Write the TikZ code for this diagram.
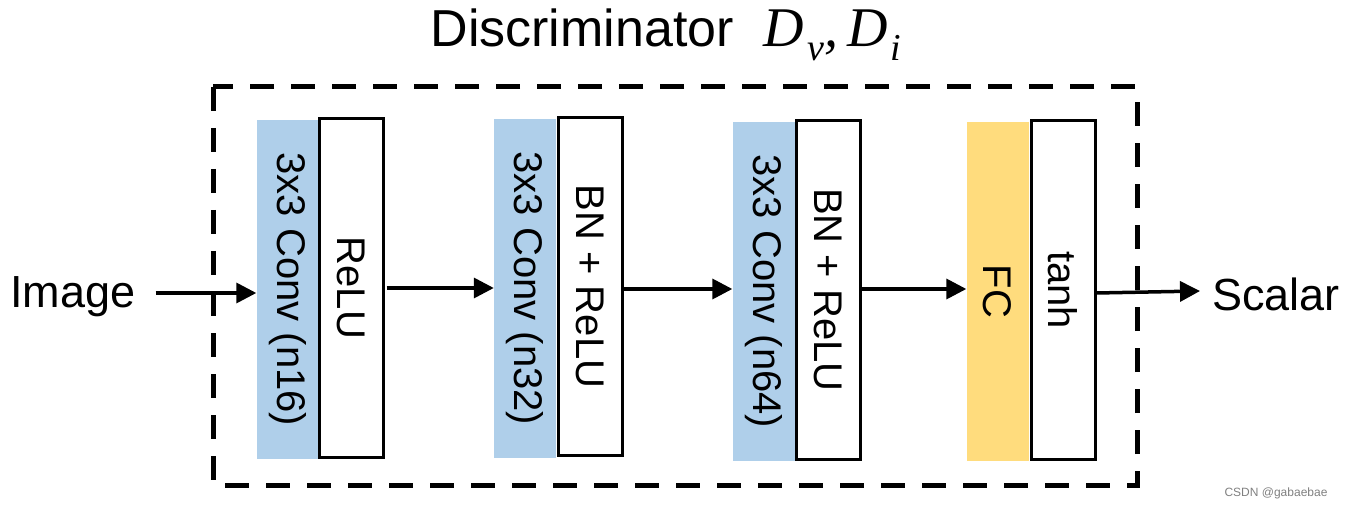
\documentclass[tikz,border=0pt]{standalone}
\usepackage{fontspec}
\usepackage{graphicx}
\setmainfont{Liberation Sans}
\newfontfamily\timesit{Liberation Serif}[UprightFont=*-Italic]
\usetikzlibrary{arrows.meta, positioning}
\definecolor{convblue}{RGB}{175,207,234}
\definecolor{fcyellow}{RGB}{255,220,125}

\begin{document}
\begin{tikzpicture}[
    x=1pt, y=-1pt,
    every node/.style={color=black, inner sep=0pt},
    bigtext/.style={font=\fontsize{45}{54}\selectfont},
    layertext/.style={font=\fontsize{40}{48}\selectfont},
    colorbox/.style={layertext, minimum width=62pt, minimum height=339pt},
    actbox/.style={layertext, draw, line width=3pt, fill=white,
    minimum width=64pt, minimum height=338pt},
    flow/.style={line width=3.5pt, -{Triangle[length=20pt, width=20pt]}},
    frame line/.style={line width=5pt, dash pattern=on 24pt off 17pt}
    ]
    \useasboundingbox (0,0) rectangle (1348,510);
    % Title
    \node (title) at (666,35) {{\fontsize{52}{60}\selectfont Discriminator}\hspace{30pt}{\timesit\fontsize{56}{60}\selectfont
        D\kern3pt\raisebox{-14pt}{\fontsize{38}{40}\selectfont v},\,D\kern3pt\raisebox{-14pt}{\fontsize{38}{40}\selectfont i}}};
    % Frame
    \draw[frame line] (213,87) rectangle (1137,485);
    % Layers
    \node[colorbox, fill=convblue] (conv1) at (287.5,289.5) {\rotatebox{-90}{3x3 Conv (n16)}};
    \node[actbox] (relu1) at (351,288) {\rotatebox{-90}{ReLU}};
    \node[colorbox, fill=convblue] (conv2) at (525,288.5) {\rotatebox{-90}{3x3 Conv (n32)}};
    \node[actbox] (bn2) at (590.5,286.5) {\rotatebox{-90}{BN + ReLU}};
    \node[colorbox, fill=convblue] (conv3) at (763.5,291.5) {\rotatebox{-90}{3x3 Conv (n64)}};
    \node[actbox] (bn3) at (828.5,290) {\rotatebox{-90}{BN + ReLU}};
    \node[colorbox, fill=fcyellow] (fc) at (997.5,291.5) {\rotatebox{-90}{FC}};
    \node[actbox] (tanh) at (1063,290) {\rotatebox{-90}{tanh}};
    % In and out
    \node[bigtext] (img) at (73,297) {Image};
    \node[bigtext] (scalar) at (1276,294) {Scalar};
    % Arrows
    \draw[flow] ([xshift=20pt]img.east |- 0,293) -- (conv1.west |- 0,293);
    \draw[flow] ([xshift=2pt]relu1.east) -- (relu1.east -| conv2.west);
    \draw[flow] (bn2.east |- 0,289) -- (conv3.west |- 0,289);
    \draw[flow] (bn3.east |- 0,289) -- (fc.west |- 0,289);
    \draw[flow] (tanh.east |- 0,293) -- ([xshift=-12pt]scalar.west |- 0,291);
    % Watermark
    \node[font=\fontsize{12}{14}\selectfont, color=gray] (mark) at (1276,493) {CSDN @gabaebae};
\end{tikzpicture}
\end{document}
